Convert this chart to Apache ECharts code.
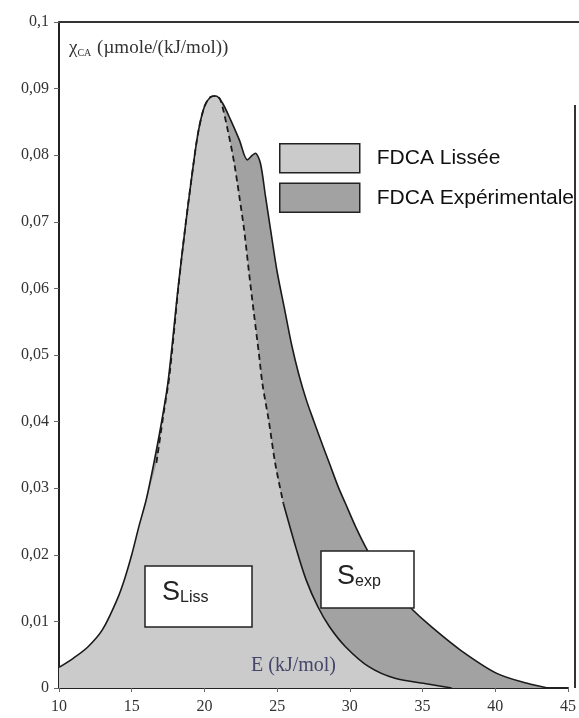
<!DOCTYPE html>
<html>
<head>
<meta charset="utf-8">
<script src="https://cdn.jsdelivr.net/npm/echarts@6/dist/echarts.min.js"></script>
<style>
html,body{margin:0;padding:0;background:#fff;}
#c{width:579px;height:718px;}
</style>
</head>
<body>
<div id="c"></div>
<script>
// ---- data ----
const xTicks = [10, 15, 20, 25, 30, 35, 40, 45];
const yTicks = [0, 0.01, 0.02, 0.03, 0.04, 0.05, 0.06, 0.07, 0.08, 0.09, 0.1];

const expE = [10.0, 11.0, 12.0, 13.0, 14.0, 14.5, 15.0, 15.5, 16.0, 16.5, 17.0, 17.5, 18.2, 18.66, 19.1, 19.56, 20.0, 20.4, 20.8, 21.25, 21.8, 22.4, 22.95, 23.3, 23.5, 23.85, 24.2, 24.55, 25.0, 25.5, 26.0, 26.5, 27.0, 27.5, 28.0, 28.6, 29.2, 29.7, 30.4, 31.2, 32.4, 34.1, 35.6, 37.6, 40.1, 42.2, 43.6];
const expChi = [0.0031, 0.0045, 0.0062, 0.0088, 0.0133, 0.0163, 0.0200, 0.0243, 0.0283, 0.0335, 0.0393, 0.0460, 0.0603, 0.0688, 0.0763, 0.0833, 0.0873, 0.0887, 0.0889, 0.0878, 0.0853, 0.0823, 0.0793, 0.0800, 0.0803, 0.0788, 0.0738, 0.0688, 0.0625, 0.0570, 0.0515, 0.0470, 0.0433, 0.0402, 0.0372, 0.0337, 0.0302, 0.0277, 0.0242, 0.0207, 0.0162, 0.0122, 0.0092, 0.0057, 0.0022, 0.0007, 0.0000];

const lissE = [10.0, 11.0, 12.0, 13.0, 14.0, 14.5, 15.0, 15.5, 16.0, 16.7, 17.2, 17.6, 18.2, 18.66, 19.1, 19.56, 20.0, 20.4, 20.8, 21.1, 21.6, 22.05, 22.4, 22.73, 23.07, 23.4, 23.74, 24.0, 24.42, 24.87, 25.43, 26.34, 27.0, 27.8, 28.6, 29.7, 31.3, 33.1, 35.35, 37.0];
const lissChi = [0.0031, 0.0045, 0.0062, 0.0088, 0.0133, 0.0163, 0.0200, 0.0243, 0.0283, 0.0338, 0.0413, 0.0470, 0.0600, 0.0688, 0.0763, 0.0833, 0.0873, 0.0887, 0.0889, 0.0883, 0.0838, 0.0788, 0.0738, 0.0688, 0.0623, 0.0563, 0.0503, 0.0455, 0.0402, 0.0337, 0.0277, 0.0207, 0.0162, 0.0122, 0.0092, 0.0062, 0.0032, 0.00145, 0.0006, 0.0000];

const seriesNames = ['FDCA Lissée', 'FDCA Expérimentale'];
const dashFrom = 16.7, dashTo = 25.43;

// ---- build ----
const expData = expE.map((e, i) => [e, expChi[i]]);
const lissData = lissE.map((e, i) => [e, lissChi[i]]);
const lissDashed = lissData.filter(p => p[0] >= dashFrom && p[0] <= dashTo);
const lissSolid = lissData.filter(p => p[0] >= dashTo);

const lightFill = '#cbcbcb';
const darkFill = '#a2a2a2';
const serif = "'Liberation Serif', 'DejaVu Serif', serif";
const sans = "'Liberation Sans', Arial, sans-serif";

const chart = echarts.init(document.getElementById('c'), null, {renderer: 'canvas'});
chart.setOption({
  backgroundColor: '#fff',
  animation: false,
  grid: {left: 59, right: 4, top: 22, bottom: 30, containLabel: false},
  title: [
    {
      text: '{a|χ}{b|CA}{a| (µmole/(kJ/mol))}',
      left: 64, top: 34,
      textStyle: {
        fontWeight: 'normal',
        rich: {
          a: {fontFamily: serif, fontSize: 19, fontWeight: 'normal', color: '#333'},
          b: {fontFamily: serif, fontSize: 10, fontWeight: 'normal', color: '#333', verticalAlign: 'bottom', padding: [6, 1, 0, 0]}
        }
      }
    },
    {
      text: 'E (kJ/mol)',
      left: 246, top: 651,
      textStyle: {fontFamily: serif, fontSize: 20, fontWeight: 'normal', color: '#45456a'}
    }
  ],
  legend: {
    orient: 'vertical',
    left: 274, top: 138,
    itemWidth: 80, itemHeight: 29, itemGap: 9,
    icon: 'rect',
    selectedMode: false,
    data: [
      {name: seriesNames[0], itemStyle: {color: lightFill, borderColor: '#222', borderWidth: 1.5}},
      {name: seriesNames[1], itemStyle: {color: darkFill, borderColor: '#222', borderWidth: 1.5}}
    ],
    textStyle: {fontFamily: sans, fontSize: 21, color: '#111', padding: [0, 0, 0, 12]}
  },
  xAxis: {
    type: 'value', min: xTicks[0], max: xTicks[xTicks.length - 1], interval: 5,
    splitLine: {show: false},
    axisLine: {lineStyle: {color: '#222', width: 2}},
    axisTick: {show: true, length: 4, lineStyle: {color: '#666'}},
    axisLabel: {fontFamily: serif, fontSize: 16, color: '#333', margin: 11, showMaxLabel: true}
  },
  yAxis: {
    type: 'value', min: yTicks[0], max: yTicks[yTicks.length - 1], interval: 0.01,
    splitLine: {show: false},
    axisLine: {show: true, lineStyle: {color: '#222', width: 2}},
    axisTick: {show: true, length: 5, lineStyle: {color: '#666'}},
    axisLabel: {
      fontFamily: serif, fontSize: 16, color: '#333', margin: 10,
      formatter: v => v === 0 ? '0' : String(+v.toFixed(2)).replace('.', ',')
    }
  },
  series: [
    {
      name: seriesNames[1], type: 'line', data: expData, smooth: 0.3,
      symbol: 'none', color: darkFill,
      lineStyle: {width: 0, color: '#222'},
      areaStyle: {color: darkFill, opacity: 1},
      z: 1
    },
    {
      name: seriesNames[0], type: 'line', data: lissData, smooth: 0.3,
      symbol: 'none', color: lightFill,
      lineStyle: {width: 0, color: '#222'},
      areaStyle: {color: lightFill, opacity: 1},
      z: 2
    },
    {
      name: 'expLine', type: 'line', data: expData, smooth: 0.3,
      symbol: 'none', lineStyle: {width: 1.6, color: '#1a1a1a'}, z: 3
    },
    {
      name: 'lissDash', type: 'line', data: lissDashed, smooth: 0.3,
      symbol: 'none', lineStyle: {width: 1.8, color: '#1a1a1a', type: [6, 4]}, z: 4
    },
    {
      name: 'lissSolid', type: 'line', data: lissSolid, smooth: 0.3,
      symbol: 'none', lineStyle: {width: 1.6, color: '#1a1a1a'}, z: 4
    }
  ],
  graphic: [
    {type: 'line', shape: {x1: 59, y1: 22, x2: 579, y2: 22}, style: {stroke: '#333', lineWidth: 2}, z: 100},
    {type: 'line', shape: {x1: 575, y1: 105, x2: 575, y2: 688}, style: {stroke: '#333', lineWidth: 2}, z: 100},
    {type: 'rect', z: 100, shape: {x: 145, y: 566, width: 107, height: 61}, style: {fill: '#fff', stroke: '#222', lineWidth: 1.5}},
    {type: 'text', z: 101, x: 162, y: 579, style: {
      text: '{s|S}{t|Liss}',
      rich: {
        s: {fontFamily: sans, fontSize: 27, fill: '#222'},
        t: {fontFamily: sans, fontSize: 16, fill: '#222', verticalAlign: 'bottom'}
      }
    }},
    {type: 'rect', z: 100, shape: {x: 321, y: 551, width: 93, height: 57}, style: {fill: '#fff', stroke: '#222', lineWidth: 1.5}},
    {type: 'text', z: 101, x: 337, y: 563, style: {
      text: '{s|S}{t|exp}',
      rich: {
        s: {fontFamily: sans, fontSize: 27, fill: '#222'},
        t: {fontFamily: sans, fontSize: 16, fill: '#222', verticalAlign: 'bottom'}
      }
    }}
  ]
});
</script>
</body>
</html>
